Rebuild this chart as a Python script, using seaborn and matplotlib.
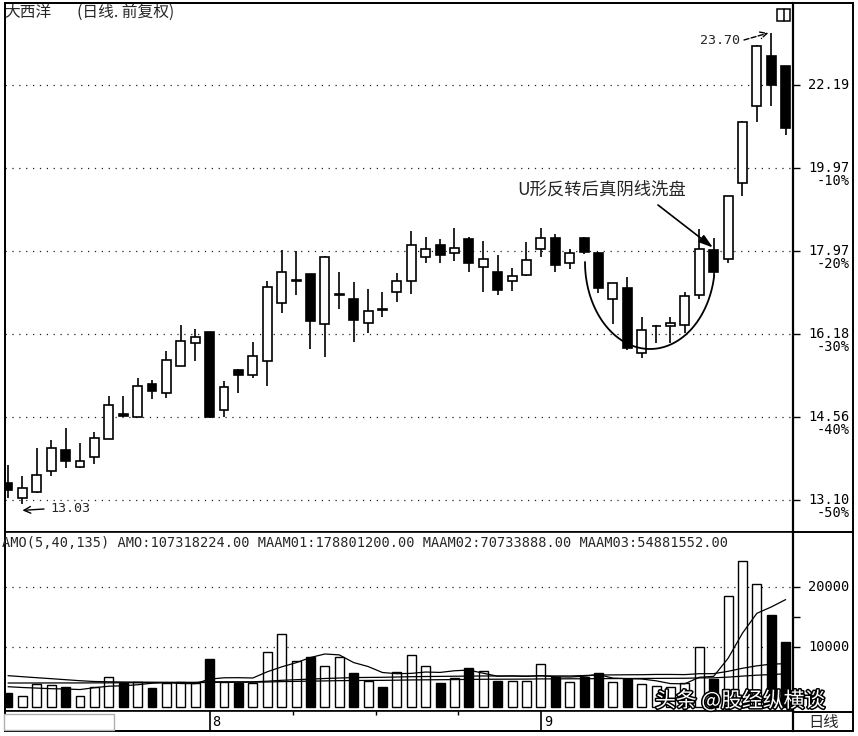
import numpy as np
import pandas as pd
import matplotlib
matplotlib.use('Agg')
import matplotlib.pyplot as plt
import matplotlib.patheffects as pe
import matplotlib.transforms as mtransforms
from matplotlib.patches import Rectangle
from matplotlib.lines import Line2D
import seaborn as sns

W, H = 858, 736

# daily bars
opens = [13.39, 13.14, 13.23, 13.59, 13.96, 13.66, 13.84, 14.15, 14.61, 14.56,
         15.18, 15.00, 15.54, 15.99, 16.21, 14.68, 15.46, 15.35, 15.62, 16.82,
         17.31, 17.45, 16.38, 16.99, 16.91, 16.41, 16.69, 17.05, 17.30, 17.83,
         18.11, 17.92, 18.24, 17.60, 17.50, 17.30, 17.43, 18.01, 18.28, 17.69,
         18.28, 17.93, 16.91, 17.15, 15.79, 16.33, 16.33, 16.35, 16.99, 18.00,
         17.78, 19.59, 21.61, 23.03, 22.73]
highs = [13.69, 13.51, 13.99, 14.14, 14.36, 14.08, 14.29, 14.95, 14.95, 15.29,
         15.26, 15.82, 16.37, 16.28, 16.22, 15.24, 15.47, 16.02, 17.31, 17.99,
         17.96, 17.46, 17.86, 17.50, 17.27, 17.13, 17.07, 17.47, 18.43, 18.30,
         18.24, 18.50, 18.30, 18.21, 17.89, 17.58, 18.17, 18.50, 18.36, 18.02,
         18.29, 17.94, 17.26, 17.39, 16.52, 16.37, 16.52, 17.07, 18.47, 18.26,
         19.27, 21.19, 23.33, 23.70, 22.74]
lows = [13.13, 13.03, 13.22, 13.50, 13.64, 13.64, 13.71, 14.15, 14.55, 14.55,
        14.89, 14.92, 15.54, 15.62, 14.54, 14.56, 15.00, 15.29, 15.15, 16.62,
        17.00, 15.87, 15.70, 16.70, 16.01, 16.19, 16.53, 16.85, 17.02, 17.69,
        17.69, 17.74, 17.50, 17.05, 16.99, 17.08, 17.42, 17.84, 17.50, 17.56,
        17.90, 17.03, 16.38, 15.85, 15.69, 15.99, 16.00, 16.19, 16.91, 17.41,
        17.70, 19.26, 21.18, 21.59, 20.82]
closes = [13.27, 13.31, 13.53, 13.99, 13.76, 13.76, 14.18, 14.78, 14.57, 15.15,
          15.05, 15.64, 16.04, 16.11, 14.56, 15.13, 15.35, 15.73, 17.17, 17.50,
          17.33, 16.45, 17.83, 17.01, 16.47, 16.66, 16.67, 17.30, 18.12, 18.01,
          17.88, 18.03, 17.69, 17.79, 17.10, 17.41, 17.77, 18.26, 17.65, 17.92,
          17.94, 17.14, 17.25, 15.89, 16.26, 16.34, 16.40, 16.98, 18.01, 17.50,
          19.26, 21.18, 23.32, 22.19, 21.02]
volumes = [2233, 1783, 3783, 3617, 3333, 1783, 3333, 5000, 4000, 4167,
           3067, 3900, 4167, 3900, 7950, 4167, 4000, 3900, 9067, 12067,
           7617, 8333, 6833, 8333, 5667, 4333, 3333, 5833, 8617, 6783,
           4000, 4717, 6400, 6000, 4283, 4283, 4283, 7067, 5000, 4067,
           5000, 5667, 4067, 4567, 3783, 3500, 3333, 3900, 10000, 4567,
           18500, 24300, 20450, 15283, 10732]

# moving averages before enough bars are on screen
ma5_head = [3330, 3200, 3100, 3000]
ma40_head = [5170, 5000, 4830, 4670, 4500, 4330, 4200, 4150, 4120, 4100,
             4080, 4070, 4060, 4060, 4150, 4150, 4150, 4150, 4250, 4400,
             4500, 4600, 4700, 4780, 4850, 4880, 4900, 4950, 5000, 5030,
             5050, 5080, 5100, 5120, 5120, 5110, 5110, 5130, 5130]
ma135 = [3950, 3950, 3950, 3960, 3960, 3960, 3970, 3980, 3990, 4000,
         4000, 4010, 4020, 4020, 4050, 4060, 4070, 4080, 4120, 4180,
         4220, 4260, 4300, 4340, 4360, 4380, 4390, 4420, 4460, 4480,
         4500, 4520, 4550, 4570, 4580, 4590, 4600, 4630, 4640, 4650,
         4660, 4680, 4690, 4700, 4710, 4720, 4730, 4740, 4800, 4810,
         4930, 5100, 5250, 5360, 5488]

price_levels = [22.19, 19.97, 17.97, 16.18, 14.56, 13.10]
price_pcts = ['', '-10%', '-20%', '-30%', '-40%', '-50%']
vol_grid = [10000, 20000]
vol_ticks = [10000, 15000, 20000]
vol_tick_labels = ['10000', '', '20000']
month_ticks = [14, 37]
month_labels = ['8', '9']
day_ticks = [19.8, 25.55, 31.25]

header = ('AMO(5,40,135) AMO:107318224.00 MAAM01:178801200.00 '
          'MAAM02:70733888.00 MAAM03:54881552.00')

df = pd.DataFrame({'open': opens, 'high': highs, 'low': lows,
                   'close': closes, 'volume': volumes})
df['idx'] = np.arange(len(df))
ma5 = df['volume'].rolling(5).mean()
ma5.iloc[:len(ma5_head)] = ma5_head
ma40 = df['volume'].rolling(40).mean()
ma40.iloc[:len(ma40_head)] = ma40_head
df['ma5'] = ma5
df['ma40'] = ma40
df['ma135'] = ma135

sns.set_theme(style='white')
mono = 'DejaVu Sans Mono'
cjk = ['Noto Sans CJK SC', 'DejaVu Sans']
plt.rcParams['font.family'] = [mono, 'Noto Sans CJK SC']


def px_rect(x0, y0, x1, y1):
    return [x0 / W, 1 - y1 / H, (x1 - x0) / W, (y1 - y0) / H]


def px(x, y):
    return x / W, 1 - y / H


fig = plt.figure(figsize=(W / 100, H / 100), dpi=100)
fig.patch.set_facecolor('white')
ax = fig.add_axes(px_rect(5, 3, 793, 532))
ax_vol = fig.add_axes(px_rect(5, 532, 793, 711), sharex=ax)
ax_date = fig.add_axes(px_rect(5, 711, 793, 731), sharex=ax)

up = df['close'] >= df['open']
face = np.where(up, 'white', 'black')

# candles
ax.vlines(df['idx'], df['low'], df['high'], color='black', lw=1.2, zorder=2)
ax.bar(df['idx'], (df['close'] - df['open']).abs(),
       bottom=df[['open', 'close']].min(axis=1), width=0.62,
       color=face, edgecolor='black', lw=1.2, zorder=3)
ax.set_yscale('log')
ax.set_ylim(12.58, 24.62)
ax.set_xlim(-0.21, 54.51)
ax.minorticks_off()
ax.set_yticks(price_levels)
ax.set_yticklabels([])
ax.grid(axis='y', linestyle=(0, (1, 4.5)), color='#222222', lw=0.9)
ax.grid(axis='x', visible=False)
ax.tick_params(axis='y', left=False, right=True, direction='out', length=5,
               width=1, color='black', labelleft=False, labelright=False)
ax.tick_params(axis='x', bottom=False, labelbottom=False)
ytrans = ax.get_yaxis_transform()
pct_trans = mtransforms.offset_copy(ytrans, fig=fig, y=-13, units='dots')
for level, pct in zip(price_levels, price_pcts):
    ax.text(1.019, level, '{:.2f}'.format(level), transform=ytrans,
            ha='left', va='center', fontsize=9.8, family=mono, color='black')
    if pct:
        ax.text(1.0723, level, pct, transform=pct_trans, ha='right',
                va='center', fontsize=9.8, family=mono, color='black')

# volume
ax_vol.bar(df['idx'], df['volume'], width=0.62, color=face,
           edgecolor='black', lw=1.0, zorder=2)
for col in ['ma5', 'ma40', 'ma135']:
    sns.lineplot(data=df, x='idx', y=col, ax=ax_vol, color='black', lw=0.9,
                 legend=False, zorder=3)
for g in vol_grid:
    ax_vol.axhline(g, linestyle=(0, (1, 4.5)), color='#222222', lw=0.9, zorder=1)
ax_vol.set_ylim(-717, 29117)
ax_vol.set_yticks(vol_ticks)
ax_vol.set_yticklabels([])
ax_vol.set_xlabel('')
ax_vol.set_ylabel('')
ax_vol.tick_params(axis='y', left=False, right=True, direction='out', length=5,
                   width=1, color='black', labelleft=False, labelright=False)
ax_vol.tick_params(axis='x', bottom=False, labelbottom=False)
vtrans = ax_vol.get_yaxis_transform()
for v, lab in zip(vol_ticks, vol_tick_labels):
    if lab:
        ax_vol.text(1.019, v, lab, transform=vtrans, ha='left', va='center',
                    fontsize=9.8, family=mono, color='black')

# date strip
ax_date.set_ylim(0, 1)
ax_date.vlines(month_ticks, 0, 1, color='black', lw=1.2)
ax_date.vlines(day_ticks, 0.78, 1, color='black', lw=1.0)
for t, lab in zip(month_ticks, month_labels):
    ax_date.text(t + 0.2, 0.45, lab, ha='left', va='center', fontsize=9.8,
                 family=mono, color='black')
ax_date.tick_params(bottom=False, labelbottom=False, left=False, labelleft=False)

for a in (ax, ax_vol, ax_date):
    for s in a.spines.values():
        s.set_color('black')
        s.set_linewidth(1.2)
    a.spines['right'].set_linewidth(1.6)

# outer frame and right-hand boxes
fig.add_artist(Rectangle(px(5, 731), 848 / W, 728 / H, transform=fig.transFigure,
                         fill=False, edgecolor='black', lw=1.4))
for (x0, y0, x1, y1) in [(793, 532, 853, 532), (793, 712, 853, 712)]:
    fig.add_artist(Line2D([x0 / W, x1 / W], [1 - y0 / H, 1 - y1 / H],
                          transform=fig.transFigure, color='black', lw=1.4))
fig.add_artist(Rectangle(px(777, 21), 13 / W, 12 / H, transform=fig.transFigure,
                         fill=False, edgecolor='black', lw=1.1))
fig.add_artist(Line2D([783.5 / W, 783.5 / W], [1 - 9 / H, 1 - 21 / H],
                      transform=fig.transFigure, color='black', lw=1.1))
fig.add_artist(Rectangle(px(4, 730), 110 / W, 16 / H, transform=fig.transFigure,
                         fill=True, facecolor='white', edgecolor='#b0b0b0', lw=1.0))

# titles and header
fig.text(*px(4, 12), '大西洋', family=cjk, fontsize=11.3, va='center', ha='left')
fig.text(*px(77, 12), '(日线. 前复权)', family=cjk, fontsize=11.3, va='center', ha='left')
fig.text(*px(2, 543), header, family=mono, fontsize=9.85, va='center', ha='left')
fig.text(*px(824, 722), '日线', family=cjk, fontsize=11, va='center', ha='center')

# U-shaped annotation
t = np.radians(np.linspace(180, 351, 120))
arc_x = (650 + 65 * np.cos(t)) / W
arc_y = 1 - (262 - 87 * np.sin(t)) / H
fig.add_artist(Line2D(arc_x, arc_y, transform=fig.transFigure, color='black', lw=1.3))
fig.text(*px(602, 190), 'U形反转后真阴线洗盘', family=cjk, fontsize=12.5,
         va='center', ha='center')
ax.annotate('', xy=(48.95, 18.05), xytext=(658, H - 205), textcoords='figure pixels',
            arrowprops=dict(arrowstyle='-|>,head_length=0.7,head_width=0.22',
                            color='black', lw=1.2, shrinkA=0, shrinkB=0))

# high / low marks
fig.text(*px(740, 40), '23.70', family=mono, fontsize=9.6, va='center', ha='right')
ax.annotate('', xy=(52.8, 23.70), xytext=(744, H - 40), textcoords='figure pixels',
            arrowprops=dict(arrowstyle='->', color='black', lw=1.0, ls='--',
                            shrinkA=0, shrinkB=0))
fig.text(*px(50, 509), '13.03', family=mono, fontsize=9.6, va='center', ha='left')
ax.annotate('', xy=(1.0, 12.93), xytext=(44, H - 509), textcoords='figure pixels',
            arrowprops=dict(arrowstyle='->', color='black', lw=1.0,
                            shrinkA=0, shrinkB=0))

# watermark
fig.text(*px(655, 701), '头条 @股经纵横谈', family=cjk, fontsize=15, color='white',
         va='center', ha='left',
         path_effects=[pe.withStroke(linewidth=2.2, foreground='black')])

fig.savefig('out.png', dpi=100)
